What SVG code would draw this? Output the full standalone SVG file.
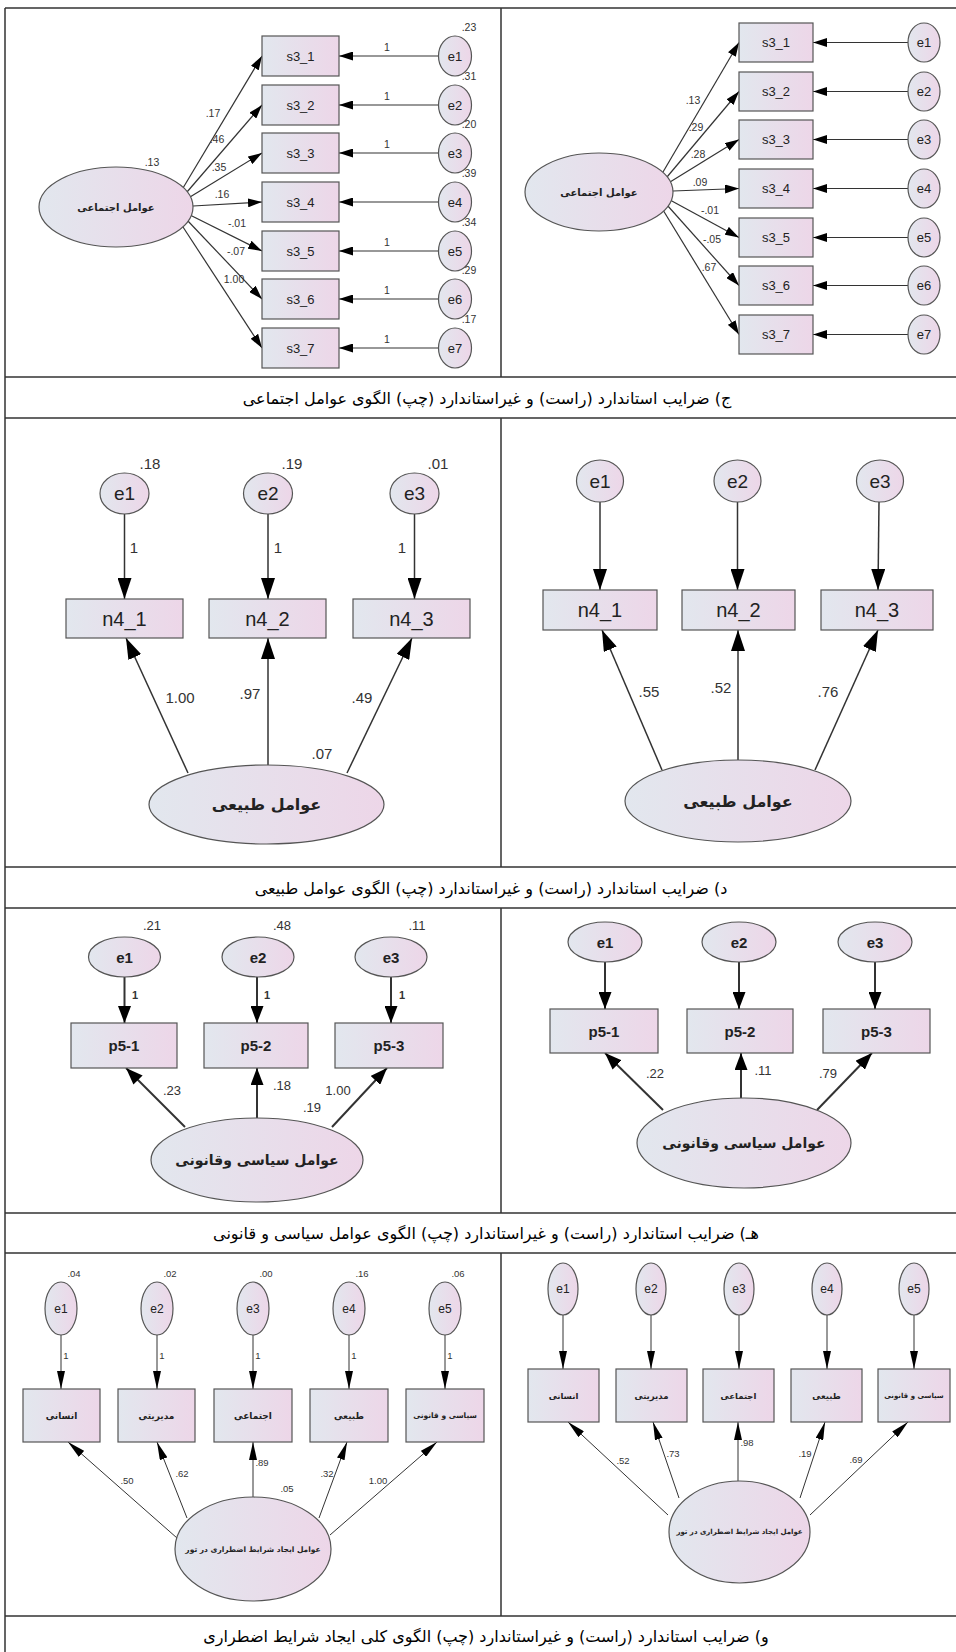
<svg xmlns="http://www.w3.org/2000/svg" width="956" height="1652" viewBox="0 0 956 1652">
<style>
.bx{fill:url(#g);stroke:#555;stroke-width:1.2}
.ln{stroke:#333;fill:none}
.t{font-family:'Liberation Sans',Arial,sans-serif;fill:#222;text-anchor:middle;dominant-baseline:central}
.n{font-family:'Liberation Sans',Arial,sans-serif;fill:#333;text-anchor:middle;dominant-baseline:central}
.fa{font-family:'DejaVu Sans',sans-serif;font-weight:bold;fill:#222;text-anchor:middle;dominant-baseline:central;direction:rtl}
.cap{font-family:'DejaVu Sans',sans-serif;font-size:16px;fill:#000;text-anchor:middle;dominant-baseline:central;direction:rtl}
.tb{stroke:#333;stroke-width:1.5;fill:none}
</style>
<defs>
<linearGradient id="g" x1="0" y1="0" x2="1" y2="0"><stop offset="0" stop-color="#e2e7ee"/><stop offset="1" stop-color="#edd6e8"/></linearGradient>
<marker id="a1" markerUnits="userSpaceOnUse" markerWidth="14" markerHeight="9" refX="14" refY="4.5" orient="auto" viewBox="0 0 14 9"><path d="M0,0L14,4.5L0,9z" fill="#000"/></marker>
<marker id="a2" markerUnits="userSpaceOnUse" markerWidth="21" markerHeight="14" refX="21" refY="7" orient="auto" viewBox="0 0 21 14"><path d="M0,0L21,7L0,14z" fill="#000"/></marker>
<marker id="a3" markerUnits="userSpaceOnUse" markerWidth="17" markerHeight="13" refX="17" refY="6.5" orient="auto" viewBox="0 0 17 13"><path d="M0,0L17,6.5L0,13z" fill="#000"/></marker>
<marker id="a4" markerUnits="userSpaceOnUse" markerWidth="18" markerHeight="8" refX="18" refY="4" orient="auto" viewBox="0 0 18 8"><path d="M0,0L18,4L0,8z" fill="#000"/></marker>
</defs>
<rect width="956" height="1652" fill="#fff"/>

<g id="table">
<path class="tb" d="M5,8H956M5,377H956M5,418H956M5,867H956M5,908H956M5,1213H956M5,1253H956M5,1616H956M5,8V1652M501,8V377M501,418V867M501,908V1213M501,1253V1616"/>
</g>
<g id="captions">
<text class="cap" x="487" y="398">ج) ضرایب استاندارد (راست) و غیراستاندارد (چپ) الگوی عوامل اجتماعی</text>
<text class="cap" x="491" y="888">د) ضرایب استاندارد (راست) و غیراستاندارد (چپ) الگوی عوامل طبیعی</text>
<text class="cap" x="486" y="1233">هـ) ضرایب استاندارد (راست) و غیراستاندارد (چپ) الگوی عوامل سیاسی و قانونی</text>
<text class="cap" x="486" y="1636">و) ضرایب استاندارد (راست) و غیراستاندارد (چپ) الگوی کلی ایجاد شرایط اضطراری</text>
</g>

<g id="connectors">
<g class="ln" stroke-width="1.2" marker-end="url(#a1)">
<path d="M438,56H339"/><path d="M438,105H339"/><path d="M438,153H339"/><path d="M438,202H339"/><path d="M438,251H339"/><path d="M438,299H339"/><path d="M438,348H339"/>
<path d="M183,188L262,56"/><path d="M187,192L262,105"/><path d="M190,197L262,153"/><path d="M193,206L262,202"/><path d="M190,215L262,251"/><path d="M187,220L262,299"/><path d="M183,227L262,348"/>
<path d="M908,42.5H813"/><path d="M908,91.5H813"/><path d="M908,139.5H813"/><path d="M908,188.5H813"/><path d="M908,237.5H813"/><path d="M908,285.5H813"/><path d="M908,334.5H813"/>
<path d="M663,172L739,42.5"/><path d="M667,177L739,91.5"/><path d="M670,182L739,139.5"/><path d="M673,191L739,188.5"/><path d="M670,200L739,237.5"/><path d="M667,205L739,285.5"/><path d="M663,210L739,334.5"/>
</g>
<g class="ln" stroke-width="1.5" marker-end="url(#a2)">
<path d="M124.5,514V599"/><path d="M268,514V599"/><path d="M414.5,514V599"/>
<path d="M188,773L126,638"/><path d="M268,765V638"/><path d="M347,773L412,638"/>
<path d="M600,502V590"/><path d="M737.5,502V590"/><path d="M879,502L878,590"/>
<path d="M662,770L602,630"/><path d="M738,760V630"/><path d="M815,770L878,630"/>
</g>
<g class="ln" stroke-width="2" marker-end="url(#a3)">
<path d="M124.5,977V1023"/><path d="M257,977V1023"/><path d="M391,977V1023"/>
<path d="M185,1127L126,1068"/><path d="M257,1118V1068"/><path d="M332,1127L387,1068"/>
<path d="M605,962V1009"/><path d="M739,962V1009"/><path d="M875,962V1009"/>
<path d="M663,1110L605,1053"/><path d="M741,1098V1053"/><path d="M817,1110L872,1053"/>
</g>
<g class="ln" stroke-width="1" marker-end="url(#a4)">
<path d="M61,1335V1389"/><path d="M157,1335V1389"/><path d="M253,1335V1389"/><path d="M349,1335V1389"/><path d="M445,1335V1389"/>
<path d="M177,1538L68,1442"/><path d="M187,1518L157,1442"/><path d="M253,1497V1442"/><path d="M319,1518L347,1442"/><path d="M330,1535L437,1442"/>
<path d="M563,1315V1369"/><path d="M651,1315V1369"/><path d="M739,1315V1369"/><path d="M827,1315V1369"/><path d="M914,1315V1369"/>
<path d="M668,1515L568,1422"/><path d="M679,1498L653,1422"/><path d="M738,1481V1422"/><path d="M800,1498L825,1422"/><path d="M810,1515L908,1422"/>
</g>
</g>

<!-- panel 1 left -->
<g id="p1l-F"><ellipse class="bx" cx="116" cy="207" rx="77" ry="40"/><text class="fa" x="116" y="207" font-size="10">عوامل اجتماعی</text></g>
<g id="p1l-s1"><rect class="bx" x="262" y="36" width="77" height="40"/><text class="t" x="300.5" y="56" font-size="13">s3_1</text></g>
<g id="p1l-s2"><rect class="bx" x="262" y="85" width="77" height="40"/><text class="t" x="300.5" y="105" font-size="13">s3_2</text></g>
<g id="p1l-s3"><rect class="bx" x="262" y="133" width="77" height="40"/><text class="t" x="300.5" y="153" font-size="13">s3_3</text></g>
<g id="p1l-s4"><rect class="bx" x="262" y="182" width="77" height="40"/><text class="t" x="300.5" y="202" font-size="13">s3_4</text></g>
<g id="p1l-s5"><rect class="bx" x="262" y="231" width="77" height="40"/><text class="t" x="300.5" y="251" font-size="13">s3_5</text></g>
<g id="p1l-s6"><rect class="bx" x="262" y="279" width="77" height="40"/><text class="t" x="300.5" y="299" font-size="13">s3_6</text></g>
<g id="p1l-s7"><rect class="bx" x="262" y="328" width="77" height="40"/><text class="t" x="300.5" y="348" font-size="13">s3_7</text></g>
<g id="p1l-e1"><ellipse class="bx" cx="455" cy="56" rx="16.5" ry="20"/><text class="t" x="455" y="56" font-size="13">e1</text></g>
<g id="p1l-e2"><ellipse class="bx" cx="455" cy="105" rx="16.5" ry="20"/><text class="t" x="455" y="105" font-size="13">e2</text></g>
<g id="p1l-e3"><ellipse class="bx" cx="455" cy="153" rx="16.5" ry="20"/><text class="t" x="455" y="153" font-size="13">e3</text></g>
<g id="p1l-e4"><ellipse class="bx" cx="455" cy="202" rx="16.5" ry="20"/><text class="t" x="455" y="202" font-size="13">e4</text></g>
<g id="p1l-e5"><ellipse class="bx" cx="455" cy="251" rx="16.5" ry="20"/><text class="t" x="455" y="251" font-size="13">e5</text></g>
<g id="p1l-e6"><ellipse class="bx" cx="455" cy="299" rx="16.5" ry="20"/><text class="t" x="455" y="299" font-size="13">e6</text></g>
<g id="p1l-e7"><ellipse class="bx" cx="455" cy="348" rx="16.5" ry="20"/><text class="t" x="455" y="348" font-size="13">e7</text></g>
<g id="p1l-labels" class="n" font-size="10.5">
<text x="469" y="27">.23</text><text x="469" y="76">.31</text><text x="469" y="124">.20</text><text x="469" y="173">.39</text><text x="469" y="222">.34</text><text x="469" y="270">.29</text><text x="469" y="319">.17</text>
<text x="387" y="47">1</text><text x="387" y="96">1</text><text x="387" y="144">1</text><text x="387" y="242">1</text><text x="387" y="290">1</text><text x="387" y="339">1</text>
<text x="152" y="162">.13</text>
<text x="213" y="113">.17</text><text x="217" y="139">.46</text><text x="219" y="167">.35</text><text x="222" y="194">.16</text><text x="237" y="223">-.01</text><text x="236" y="251">-.07</text><text x="234" y="279">1.00</text>
</g>

<!-- panel 1 right -->
<g id="p1r-F"><ellipse class="bx" cx="599" cy="192" rx="74" ry="39"/><text class="fa" x="599" y="192" font-size="10">عوامل اجتماعی</text></g>
<g id="p1r-s1"><rect class="bx" x="739" y="23" width="74" height="39"/><text class="t" x="776" y="42.5" font-size="13">s3_1</text></g>
<g id="p1r-s2"><rect class="bx" x="739" y="72" width="74" height="39"/><text class="t" x="776" y="91.5" font-size="13">s3_2</text></g>
<g id="p1r-s3"><rect class="bx" x="739" y="120" width="74" height="39"/><text class="t" x="776" y="139.5" font-size="13">s3_3</text></g>
<g id="p1r-s4"><rect class="bx" x="739" y="169" width="74" height="39"/><text class="t" x="776" y="188.5" font-size="13">s3_4</text></g>
<g id="p1r-s5"><rect class="bx" x="739" y="218" width="74" height="39"/><text class="t" x="776" y="237.5" font-size="13">s3_5</text></g>
<g id="p1r-s6"><rect class="bx" x="739" y="266" width="74" height="39"/><text class="t" x="776" y="285.5" font-size="13">s3_6</text></g>
<g id="p1r-s7"><rect class="bx" x="739" y="315" width="74" height="39"/><text class="t" x="776" y="334.5" font-size="13">s3_7</text></g>
<g id="p1r-e1"><ellipse class="bx" cx="924" cy="42.5" rx="16" ry="19.5"/><text class="t" x="924" y="42.5" font-size="13">e1</text></g>
<g id="p1r-e2"><ellipse class="bx" cx="924" cy="91.5" rx="16" ry="19.5"/><text class="t" x="924" y="91.5" font-size="13">e2</text></g>
<g id="p1r-e3"><ellipse class="bx" cx="924" cy="139.5" rx="16" ry="19.5"/><text class="t" x="924" y="139.5" font-size="13">e3</text></g>
<g id="p1r-e4"><ellipse class="bx" cx="924" cy="188.5" rx="16" ry="19.5"/><text class="t" x="924" y="188.5" font-size="13">e4</text></g>
<g id="p1r-e5"><ellipse class="bx" cx="924" cy="237.5" rx="16" ry="19.5"/><text class="t" x="924" y="237.5" font-size="13">e5</text></g>
<g id="p1r-e6"><ellipse class="bx" cx="924" cy="285.5" rx="16" ry="19.5"/><text class="t" x="924" y="285.5" font-size="13">e6</text></g>
<g id="p1r-e7"><ellipse class="bx" cx="924" cy="334.5" rx="16" ry="19.5"/><text class="t" x="924" y="334.5" font-size="13">e7</text></g>
<g id="p1r-labels" class="n" font-size="10.5">
<text x="693" y="100">.13</text><text x="696" y="127">.29</text><text x="698" y="154">.28</text><text x="700" y="182">.09</text><text x="710" y="210">-.01</text><text x="712" y="239">-.05</text><text x="709" y="267">.67</text>
</g>

<!-- panel 2 left -->
<g id="p2l-F"><ellipse class="bx" cx="266.5" cy="804.5" rx="117.5" ry="39.5"/><text class="fa" x="266.5" y="804.5" font-size="16">عوامل طبیعی</text></g>
<g id="p2l-n1"><rect class="bx" x="66" y="599" width="117" height="39"/><text class="t" x="124.5" y="618.5" font-size="20">n4_1</text></g>
<g id="p2l-n2"><rect class="bx" x="209" y="599" width="117" height="39"/><text class="t" x="267.5" y="618.5" font-size="20">n4_2</text></g>
<g id="p2l-n3"><rect class="bx" x="353" y="599" width="117" height="39"/><text class="t" x="411.5" y="618.5" font-size="20">n4_3</text></g>
<g id="p2l-e1"><ellipse class="bx" cx="124.5" cy="493.5" rx="24.5" ry="20.5"/><text class="t" x="124.5" y="493.5" font-size="19">e1</text></g>
<g id="p2l-e2"><ellipse class="bx" cx="268" cy="493.5" rx="24.5" ry="20.5"/><text class="t" x="268" y="493.5" font-size="19">e2</text></g>
<g id="p2l-e3"><ellipse class="bx" cx="414.5" cy="493.5" rx="24.5" ry="20.5"/><text class="t" x="414.5" y="493.5" font-size="19">e3</text></g>
<g id="p2l-labels" class="n" font-size="15">
<text x="150" y="463">.18</text><text x="292" y="463">.19</text><text x="438" y="463">.01</text>
<text x="134" y="547">1</text><text x="278" y="547">1</text><text x="402" y="547">1</text>
<text x="180" y="697">1.00</text><text x="250" y="693">.97</text><text x="362" y="697">.49</text><text x="322" y="753">.07</text>
</g>

<!-- panel 2 right -->
<g id="p2r-F"><ellipse class="bx" cx="738" cy="801" rx="113" ry="41"/><text class="fa" x="738" y="801" font-size="16">عوامل طبیعی</text></g>
<g id="p2r-n1"><rect class="bx" x="543" y="590" width="114" height="40"/><text class="t" x="600" y="610" font-size="20">n4_1</text></g>
<g id="p2r-n2"><rect class="bx" x="682" y="590" width="113" height="40"/><text class="t" x="738.5" y="610" font-size="20">n4_2</text></g>
<g id="p2r-n3"><rect class="bx" x="821" y="590" width="112" height="40"/><text class="t" x="877" y="610" font-size="20">n4_3</text></g>
<g id="p2r-e1"><ellipse class="bx" cx="600" cy="481" rx="23.5" ry="21"/><text class="t" x="600" y="481" font-size="19">e1</text></g>
<g id="p2r-e2"><ellipse class="bx" cx="737.5" cy="481" rx="23.5" ry="21"/><text class="t" x="737.5" y="481" font-size="19">e2</text></g>
<g id="p2r-e3"><ellipse class="bx" cx="880" cy="481" rx="23.5" ry="21"/><text class="t" x="880" y="481" font-size="19">e3</text></g>
<g id="p2r-labels" class="n" font-size="15">
<text x="649" y="691">.55</text><text x="721" y="687">.52</text><text x="828" y="691">.76</text>
</g>

<!-- panel 3 left -->
<g id="p3l-F"><ellipse class="bx" cx="257" cy="1160" rx="106" ry="42"/><text class="fa" x="257" y="1160" font-size="14">عوامل سیاسی وقانونی</text></g>
<g id="p3l-p1"><rect class="bx" x="71" y="1023" width="106" height="45"/><text class="t" x="124" y="1045.5" font-size="15" font-weight="bold">p5-1</text></g>
<g id="p3l-p2"><rect class="bx" x="204" y="1023" width="104" height="45"/><text class="t" x="256" y="1045.5" font-size="15" font-weight="bold">p5-2</text></g>
<g id="p3l-p3"><rect class="bx" x="335" y="1023" width="108" height="45"/><text class="t" x="389" y="1045.5" font-size="15" font-weight="bold">p5-3</text></g>
<g id="p3l-e1"><ellipse class="bx" cx="124.5" cy="957" rx="36" ry="20"/><text class="t" x="124.5" y="957" font-size="15" font-weight="bold">e1</text></g>
<g id="p3l-e2"><ellipse class="bx" cx="258" cy="957" rx="36" ry="20"/><text class="t" x="258" y="957" font-size="15" font-weight="bold">e2</text></g>
<g id="p3l-e3"><ellipse class="bx" cx="391" cy="957" rx="36" ry="20"/><text class="t" x="391" y="957" font-size="15" font-weight="bold">e3</text></g>
<g id="p3l-labels" class="n" font-size="13">
<text x="152" y="925">.21</text><text x="282" y="925">.48</text><text x="417" y="925">.11</text>
<text x="135" y="995" font-size="11" font-weight="bold">1</text><text x="267" y="995" font-size="11" font-weight="bold">1</text><text x="402" y="995" font-size="11" font-weight="bold">1</text>
<text x="172" y="1090">.23</text><text x="282" y="1085">.18</text><text x="338" y="1090">1.00</text><text x="312" y="1107">.19</text>
</g>

<!-- panel 3 right -->
<g id="p3r-F"><ellipse class="bx" cx="744" cy="1143" rx="107" ry="45"/><text class="fa" x="744" y="1143" font-size="14">عوامل سیاسی وقانونی</text></g>
<g id="p3r-p1"><rect class="bx" x="550" y="1009" width="108" height="44"/><text class="t" x="604" y="1031" font-size="15" font-weight="bold">p5-1</text></g>
<g id="p3r-p2"><rect class="bx" x="687" y="1009" width="106" height="44"/><text class="t" x="740" y="1031" font-size="15" font-weight="bold">p5-2</text></g>
<g id="p3r-p3"><rect class="bx" x="823" y="1009" width="107" height="44"/><text class="t" x="876.5" y="1031" font-size="15" font-weight="bold">p5-3</text></g>
<g id="p3r-e1"><ellipse class="bx" cx="605" cy="942" rx="37" ry="20"/><text class="t" x="605" y="942" font-size="15" font-weight="bold">e1</text></g>
<g id="p3r-e2"><ellipse class="bx" cx="739" cy="942" rx="37" ry="20"/><text class="t" x="739" y="942" font-size="15" font-weight="bold">e2</text></g>
<g id="p3r-e3"><ellipse class="bx" cx="875" cy="942" rx="37" ry="20"/><text class="t" x="875" y="942" font-size="15" font-weight="bold">e3</text></g>
<g id="p3r-labels" class="n" font-size="13">
<text x="655" y="1073">.22</text><text x="763" y="1070">.11</text><text x="828" y="1073">.79</text>
</g>

<!-- panel 4 left -->
<g id="p4l-F"><ellipse class="bx" cx="253" cy="1549" rx="78" ry="52"/><text class="fa" x="253" y="1549" font-size="7.5">عوامل ایجاد شرایط اضطراری در تور</text></g>
<g id="p4l-r1"><rect class="bx" x="23" y="1389" width="77" height="53"/><text class="fa" x="61.5" y="1415.5" font-size="9">انسانی</text></g>
<g id="p4l-r2"><rect class="bx" x="118" y="1389" width="77" height="53"/><text class="fa" x="156.5" y="1415.5" font-size="9">مدیریتی</text></g>
<g id="p4l-r3"><rect class="bx" x="214" y="1389" width="78" height="53"/><text class="fa" x="253" y="1415.5" font-size="9">اجتماعی</text></g>
<g id="p4l-r4"><rect class="bx" x="310" y="1389" width="78" height="53"/><text class="fa" x="349" y="1415.5" font-size="9">طبیعی</text></g>
<g id="p4l-r5"><rect class="bx" x="406" y="1389" width="78" height="53"/><text class="fa" x="445" y="1415.5" font-size="7.5">سیاسی و قانونی</text></g>
<g id="p4l-e1"><ellipse class="bx" cx="61" cy="1308.5" rx="16" ry="26.5"/><text class="t" x="61" y="1308.5" font-size="12">e1</text></g>
<g id="p4l-e2"><ellipse class="bx" cx="157" cy="1308.5" rx="16" ry="26.5"/><text class="t" x="157" y="1308.5" font-size="12">e2</text></g>
<g id="p4l-e3"><ellipse class="bx" cx="253" cy="1308.5" rx="16" ry="26.5"/><text class="t" x="253" y="1308.5" font-size="12">e3</text></g>
<g id="p4l-e4"><ellipse class="bx" cx="349" cy="1308.5" rx="16" ry="26.5"/><text class="t" x="349" y="1308.5" font-size="12">e4</text></g>
<g id="p4l-e5"><ellipse class="bx" cx="445" cy="1308.5" rx="16" ry="26.5"/><text class="t" x="445" y="1308.5" font-size="12">e5</text></g>
<g id="p4l-labels" class="n" font-size="9.5">
<text x="74" y="1273">.04</text><text x="170" y="1273">.02</text><text x="266" y="1273">.00</text><text x="362" y="1273">.16</text><text x="458" y="1273">.06</text>
<text x="66" y="1355">1</text><text x="162" y="1355">1</text><text x="258" y="1355">1</text><text x="354" y="1355">1</text><text x="450" y="1355">1</text>
<text x="127" y="1480">.50</text><text x="182" y="1473">.62</text><text x="262" y="1462">.89</text><text x="287" y="1488">.05</text><text x="327" y="1473">.32</text><text x="378" y="1480">1.00</text>
</g>

<!-- panel 4 right -->
<g id="p4r-F"><ellipse class="bx" cx="739.5" cy="1532" rx="70.5" ry="51"/><text class="fa" x="739.5" y="1532" font-size="7">عوامل ایجاد شرایط اضطراری در تور</text></g>
<g id="p4r-r1"><rect class="bx" x="528" y="1369" width="71" height="53"/><text class="fa" x="563.5" y="1395.5" font-size="8.5">انسانی</text></g>
<g id="p4r-r2"><rect class="bx" x="616" y="1369" width="71" height="53"/><text class="fa" x="651.5" y="1395.5" font-size="8.5">مدیریتی</text></g>
<g id="p4r-r3"><rect class="bx" x="703" y="1369" width="71" height="53"/><text class="fa" x="738.5" y="1395.5" font-size="8.5">اجتماعی</text></g>
<g id="p4r-r4"><rect class="bx" x="791" y="1369" width="71" height="53"/><text class="fa" x="826.5" y="1395.5" font-size="8.5">طبیعی</text></g>
<g id="p4r-r5"><rect class="bx" x="878" y="1369" width="72" height="53"/><text class="fa" x="914" y="1395.5" font-size="7">سیاسی و قانونی</text></g>
<g id="p4r-e1"><ellipse class="bx" cx="563" cy="1289" rx="15" ry="26"/><text class="t" x="563" y="1289" font-size="12">e1</text></g>
<g id="p4r-e2"><ellipse class="bx" cx="651" cy="1289" rx="15" ry="26"/><text class="t" x="651" y="1289" font-size="12">e2</text></g>
<g id="p4r-e3"><ellipse class="bx" cx="739" cy="1289" rx="15" ry="26"/><text class="t" x="739" y="1289" font-size="12">e3</text></g>
<g id="p4r-e4"><ellipse class="bx" cx="827" cy="1289" rx="15" ry="26"/><text class="t" x="827" y="1289" font-size="12">e4</text></g>
<g id="p4r-e5"><ellipse class="bx" cx="914" cy="1289" rx="15" ry="26"/><text class="t" x="914" y="1289" font-size="12">e5</text></g>
<g id="p4r-labels" class="n" font-size="9.5">
<text x="623" y="1460">.52</text><text x="673" y="1453">.73</text><text x="747" y="1442">.98</text><text x="805" y="1453">.19</text><text x="856" y="1459">.69</text>
</g>
</svg>
